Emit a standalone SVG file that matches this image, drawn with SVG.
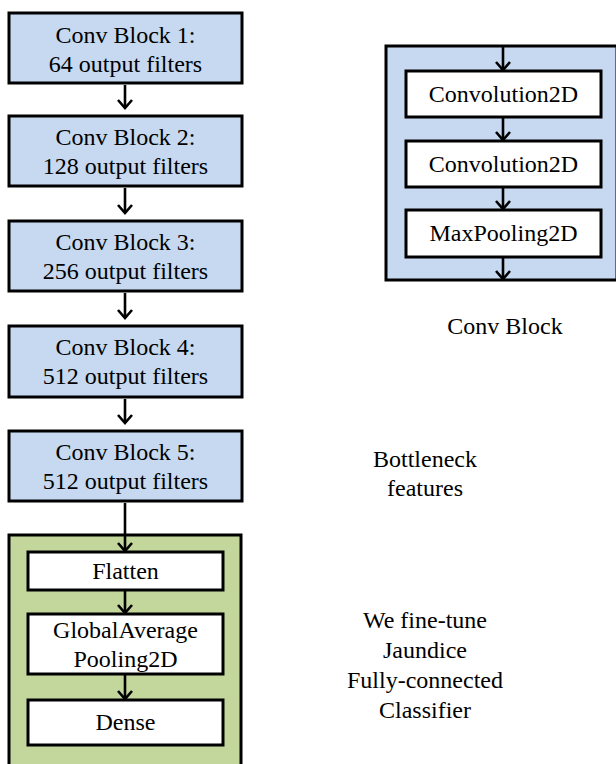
<svg xmlns="http://www.w3.org/2000/svg" width="616" height="764" viewBox="0 0 616 764">
  <style>
    .blue { fill: #c6d9f0; stroke: #000; stroke-width: 3; }
    .green { fill: #c3d69b; stroke: #000; stroke-width: 3; }
    .layer { fill: #fff; stroke: #000; stroke-width: 3; }
    text { font-family: "Liberation Serif", "Times New Roman", serif; font-size: 24px; fill: #000; text-anchor: middle; }
    .wire { stroke: #000; stroke-width: 2.6; fill: none; marker-end: url(#chev); }
  </style>
  <defs>
    <marker id="chev" markerUnits="userSpaceOnUse" orient="auto" refX="0" refY="0" markerWidth="20" markerHeight="20" overflow="visible">
      <path d="M-8,-7 L0,0 L-8,7" fill="none" stroke="#000" stroke-width="2.6" stroke-linejoin="miter"/>
    </marker>
  </defs>

  <rect width="616" height="764" fill="#fff"/>

  <!-- VGG conv stack -->
  <g id="block1">
    <rect class="blue" x="9" y="13" width="233" height="70"/>
    <text x="125.5" y="43">Conv Block 1:</text>
    <text x="125.5" y="72">64 output filters</text>
  </g>
  <g id="block2">
    <rect class="blue" x="9" y="116" width="233" height="70"/>
    <text x="125.5" y="145">Conv Block 2:</text>
    <text x="125.5" y="174">128 output filters</text>
  </g>
  <g id="block3">
    <rect class="blue" x="9" y="221" width="233" height="70"/>
    <text x="125.5" y="250">Conv Block 3:</text>
    <text x="125.5" y="279">256 output filters</text>
  </g>
  <g id="block4">
    <rect class="blue" x="9" y="326" width="233" height="71"/>
    <text x="125.5" y="355">Conv Block 4:</text>
    <text x="125.5" y="384">512 output filters</text>
  </g>
  <g id="block5">
    <rect class="blue" x="9" y="431" width="233" height="70"/>
    <text x="125.5" y="460">Conv Block 5:</text>
    <text x="125.5" y="489">512 output filters</text>
  </g>

  <!-- classifier head -->
  <g id="classifier">
    <rect class="green" x="9" y="535" width="232" height="250"/>
  </g>
  <g id="flatten">
    <rect class="layer" x="28" y="552" width="195" height="38"/>
    <text x="125.5" y="579">Flatten</text>
  </g>
  <g id="gap">
    <rect class="layer" x="28" y="614" width="195" height="60"/>
    <text x="125.5" y="638">GlobalAverage</text>
    <text x="125.5" y="667">Pooling2D</text>
  </g>
  <g id="dense">
    <rect class="layer" x="28" y="700" width="195" height="45"/>
    <text x="125.5" y="730">Dense</text>
  </g>

  <!-- conv block detail -->
  <g id="convblock">
    <rect class="blue" x="386" y="46" width="231" height="234"/>
  </g>
  <g id="conv2d-a">
    <rect class="layer" x="406" y="71" width="195" height="46"/>
    <text x="503.5" y="102">Convolution2D</text>
  </g>
  <g id="conv2d-b">
    <rect class="layer" x="406" y="141" width="195" height="46"/>
    <text x="503.5" y="172">Convolution2D</text>
  </g>
  <g id="maxpool">
    <rect class="layer" x="406" y="210" width="195" height="47"/>
    <text x="503.5" y="241">MaxPooling2D</text>
  </g>

  <!-- side labels -->
  <g id="labels">
    <text x="505" y="334">Conv Block</text>
    <text x="425" y="467">Bottleneck</text>
    <text x="425" y="496">features</text>
    <text x="425" y="628">We fine-tune</text>
    <text x="425" y="658">Jaundice</text>
    <text x="425" y="688">Fully-connected</text>
    <text x="425" y="718">Classifier</text>
  </g>

  <!-- connectors -->
  <g id="connectors">
    <line class="wire" x1="125" y1="85" x2="125" y2="108"/>
    <line class="wire" x1="125" y1="188" x2="125" y2="213"/>
    <line class="wire" x1="125" y1="293" x2="125" y2="318"/>
    <line class="wire" x1="125" y1="399" x2="125" y2="423"/>
    <line class="wire" x1="125" y1="503" x2="125" y2="551"/>
    <line class="wire" x1="125" y1="591" x2="125" y2="613"/>
    <line class="wire" x1="125" y1="675" x2="125" y2="699"/>
    <line class="wire" x1="503" y1="47" x2="503" y2="70"/>
    <line class="wire" x1="503" y1="118" x2="503" y2="140"/>
    <line class="wire" x1="503" y1="188" x2="503" y2="209"/>
    <line class="wire" x1="503" y1="258" x2="503" y2="279"/>
  </g>
</svg>
